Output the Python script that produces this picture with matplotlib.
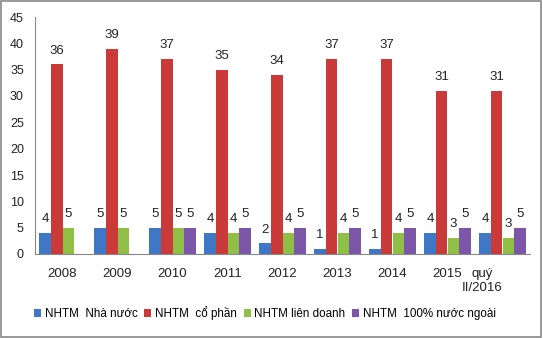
import numpy as np
import matplotlib
matplotlib.use("Agg")
import matplotlib.pyplot as plt
import matplotlib.transforms as mtransforms
from matplotlib.patches import Rectangle

plt.rcParams['font.family'] = ['Liberation Sans', 'DejaVu Sans']

categories = ["2008", "2009", "2010", "2011", "2012", "2013", "2014", "2015", "quý\nII/2016"]
nha_nuoc = [4, 5, 5, 4, 2, 1, 1, 4, 4]
co_phan = [36, 39, 37, 35, 34, 37, 37, 31, 31]
lien_doanh = [5, 5, 5, 4, 4, 4, 4, 3, 3]
nuoc_ngoai = [None, None, 5, 5, 5, 5, 5, 5, 5]

series = [
    ("NHTM  Nhà nước", nha_nuoc, "#3D77C6"),
    ("NHTM  cổ phần", co_phan, "#C93A38"),
    ("NHTM liên doanh", lien_doanh, "#8FBF45"),
    ("NHTM  100% nước ngoài", nuoc_ngoai, "#7C56A8"),
]

fig = plt.figure(figsize=(5.43, 3.38), dpi=100)
ax = fig.add_axes([35 / 543, 1 - 254 / 338, 495 / 543, (254 - 17) / 338])

x = np.arange(len(categories))
w = 0.21
offsets = (np.arange(4) - 1.5) * w

handles = []
for (name, vals, color), off in zip(series, offsets):
    xs = [xi + off for xi, v in zip(x, vals) if v is not None]
    vs = [v for v in vals if v is not None]
    bars = ax.bar(xs, vs, width=w, color=color, label=name, zorder=2)
    handles.append(bars)
    for xi, v in zip(xs, vs):
        ax.annotate(str(v), (xi, v), xytext=(0, 10), textcoords="offset points",
                    ha="center", va="center", fontsize=9.5, color="#222222")

ax.set_xlim(-0.5, len(categories) - 0.5)
ax.set_ylim(0, 45)
ax.set_yticks(range(0, 46, 5))
ax.set_xticks(x)
ax.set_xticklabels(categories, fontsize=9.5, color="#222222")
ax.tick_params(axis="y", labelsize=9, colors="#222222", length=0, pad=8)
ax.tick_params(axis="x", length=0, pad=10)
for s in ["top", "right"]:
    ax.spines[s].set_visible(False)
for s in ["left", "bottom"]:
    ax.spines[s].set_color("#888888")
    ax.spines[s].set_linewidth(0.8)

# the last, two-line label sits a little left of its group
last = ax.get_xticklabels()[-1]
last.set_multialignment("center")
last.set_transform(last.get_transform() + mtransforms.ScaledTranslation(-20 / 100, 0, fig.dpi_scale_trans))

fig.legend(handles=handles, loc="center", bbox_to_anchor=(265 / 543, 1 - 313 / 338),
           ncol=4, frameon=False, fontsize=8.4, handlelength=0.6, handleheight=0.6,
           handletextpad=0.3, columnspacing=0.6)

fig.patches.append(Rectangle((0.002, 0.003), 0.994, 0.994, transform=fig.transFigure,
                             fill=False, edgecolor="#888888", linewidth=1.2))

fig.savefig("out.png", dpi=100)
